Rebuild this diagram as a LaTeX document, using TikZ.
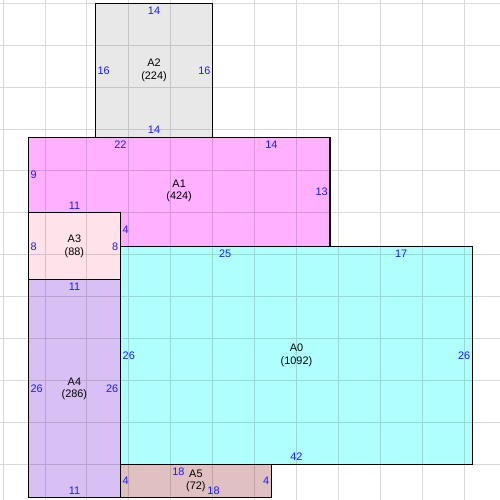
\documentclass[tikz,border=0pt]{standalone}
\usepackage{fontspec}
\setmainfont{Liberation Sans}
\definecolor{coloreA0}{HTML}{B0FFFF}
\definecolor{coloreA1}{HTML}{FFB0FF}
\definecolor{coloreA2}{HTML}{E8E8E8}
\definecolor{coloreA3}{HTML}{FFE2EA}
\definecolor{coloreA4}{HTML}{D8C0F4}
\definecolor{coloreA5}{HTML}{E0C0C0}
\definecolor{blu}{HTML}{1A1AFF}
\begin{document}
\begin{tikzpicture}[x=0.2cm,y=0.2cm,
    stanza/.style={draw=black,line width=0.8pt},
    griglia/.style={black,opacity=0.15,line width=0.7pt},
    quota/.style={font=\fontsize{7.4}{8.4}\selectfont,text=blu,inner sep=0pt},
    qsopra/.style={quota,anchor=north,yshift=-2.2pt},
    qsotto/.style={quota,anchor=south,yshift=2.2pt},
    qsx/.style={quota,anchor=west,xshift=1.3pt},
    qdx/.style={quota,anchor=east,xshift=-1.3pt},
    nome/.style={font=\fontsize{7.4}{8.4}\selectfont,align=center,inner sep=0pt}]
    \useasboundingbox (-3.38,-0.26) rectangle (56.29,59.40);

    % Stanze
    \filldraw[stanza,fill=coloreA0] (11,4) rectangle (53,30);
    \filldraw[stanza,fill=coloreA1] (0,34) -- (0,43) -- (36,43) -- (36,30) -- (11,30) -- (11,34) -- cycle;
    \filldraw[stanza,fill=coloreA2] (8,43) rectangle (22,59);
    \filldraw[stanza,fill=coloreA3] (0,26) rectangle (11,34);
    \filldraw[stanza,fill=coloreA4] (0,0) rectangle (11,26);
    \filldraw[stanza,fill=coloreA5] (11,0) rectangle (29,4);

    % Griglia
    \draw[griglia,shift={(2,4)}] (-5.38,-4.26) grid[step=5] (54.29,55.40);

    % Nomi e aree
    \node[nome] (nA0) at (32,17) {A0\\(1092)};
    \node[nome] (nA1) at (18,36.6) {A1\\(424)};
    \node[nome] (nA2) at (15,51) {A2\\(224)};
    \node[nome] (nA3) at (5.5,30) {A3\\(88)};
    \node[nome] (nA4) at (5.5,13) {A4\\(286)};
    \node[nome] (nA5) at (20,2) {A5\\(72)};

    % Quote di A2
    \node[qsopra] (q2a) at (15,59) {14};
    \node[qsx] (q2b) at (8,51) {16};
    \node[qdx] (q2c) at (22,51) {16};
    \node[qsotto] (q2d) at (15,43) {14};

    % Quote di A1
    \node[qsopra] (q1a) at (11,43) {22};
    \node[qsopra] (q1b) at (29,43) {14};
    \node[qsx] (q1c) at (0,38.5) {9};
    \node[qdx] (q1d) at (36,36.5) {13};
    \node[qsotto] (q1e) at (5.5,34) {11};
    \node[qsx] (q1f) at (11,32) {4};

    % Quote di A3
    \node[qsx] (q3a) at (0,30) {8};
    \node[qdx] (q3b) at (11,30) {8};

    % Quote di A4
    \node[qsopra] (q4a) at (5.5,26) {11};
    \node[qsx] (q4b) at (0,13) {26};
    \node[qdx] (q4c) at (11,13) {26};
    \node[qsotto] (q4d) at (5.5,0) {11};

    % Quote di A0
    \node[qsopra] (q0a) at (23.5,30) {25};
    \node[qsopra] (q0b) at (44.5,30) {17};
    \node[qsx] (q0c) at (11,17) {26};
    \node[qdx] (q0d) at (53,17) {26};
    \node[qsotto] (q0e) at (32,4) {42};

    % Quote di A5
    \node[qsopra] (q5a) at (17.9,4) {18};
    \node[qsotto] (q5b) at (22.1,0) {18};
    \node[qsx] (q5c) at (11,2) {4};
    \node[qdx] (q5d) at (29,2) {4};
\end{tikzpicture}
\end{document}
